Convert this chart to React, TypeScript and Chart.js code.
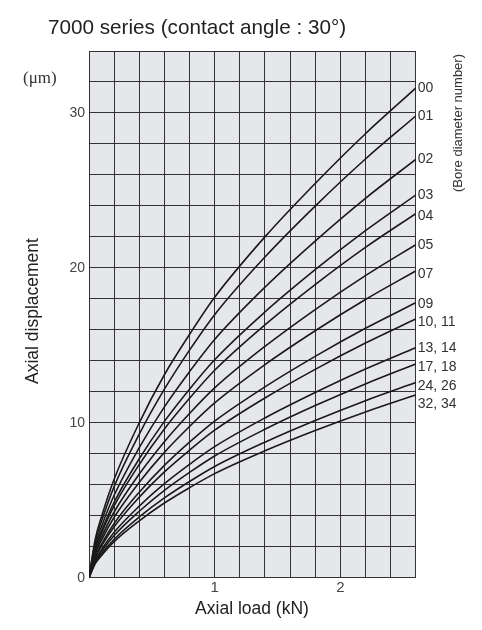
import React, { useEffect, useRef } from "react";
import { Chart, registerables } from "chart.js";

Chart.register(...registerables);

// Axial load (kN) sample points
const loads = [0, 0.05, 0.1, 0.2, 0.4, 0.6, 0.8, 1.0, 1.4, 1.8, 2.2, 2.6];

// Bore diameter numbers (curve labels)
const boreNumbers = ["00", "01", "02", "03", "04", "05", "07", "09", "10, 11", "13, 14", "17, 18", "24, 26", "32, 34"];

// Axial displacement (µm) for each bore number
const d00 = [0, 2.5, 3.95, 6.35, 10.0, 13.1, 15.7, 18.1, 22.0, 25.45, 28.66, 31.6];
const d01 = [0, 2.31, 3.65, 5.88, 9.27, 12.17, 14.69, 16.98, 20.7, 23.99, 27.03, 29.8];
const d02 = [0, 2.09, 3.31, 5.32, 8.4, 11.03, 13.3, 15.38, 18.75, 21.73, 24.49, 27.0];
const d03 = [0, 1.91, 3.03, 4.87, 7.68, 10.09, 12.17, 14.07, 17.15, 19.88, 22.4, 24.7];
const d04 = [0, 1.82, 2.88, 4.63, 7.31, 9.6, 11.58, 13.39, 16.32, 18.92, 21.32, 23.5];
const d05 = [0, 1.67, 2.63, 4.24, 6.69, 8.78, 10.6, 12.25, 14.93, 17.31, 19.5, 21.5];
const d07 = [0, 1.53, 2.43, 3.9, 6.16, 8.09, 9.76, 11.28, 13.75, 15.94, 17.96, 19.8];
const d09 = [0, 1.38, 2.17, 3.5, 5.52, 7.25, 8.75, 10.11, 12.32, 14.29, 16.1, 17.75];
const d10 = [0, 1.29, 2.05, 3.29, 5.2, 6.83, 8.23, 9.52, 11.6, 13.45, 15.15, 16.7];
const d13 = [0, 1.15, 1.82, 2.93, 4.62, 6.07, 7.32, 8.46, 10.31, 11.95, 13.47, 14.85];
const d17 = [0, 1.07, 1.69, 2.72, 4.29, 5.64, 6.8, 7.86, 9.58, 11.11, 12.51, 13.8];
const d24 = [0, 0.98, 1.54, 2.48, 3.92, 5.15, 6.21, 7.18, 8.75, 10.15, 11.43, 12.6];
const d32 = [0, 0.91, 1.44, 2.33, 3.67, 4.82, 5.81, 6.72, 8.19, 9.5, 10.7, 11.8];

const seriesValues = [d00, d01, d02, d03, d04, d05, d07, d09, d10, d13, d17, d24, d32];

// Axis tick labels
const yTickLabels = [0, 10, 20, 30];
const xTickLabels = [1, 2];

const title = "7000 series (contact angle : 30°)";
const yUnit = "(μm)";
const yTitle = "Axial displacement";
const xTitle = "Axial load (kN)";
const rightTitle = "(Bore diameter number)";

// small vertical nudges of the curve labels (px), layout only
const labelNudge = [0, 0, 0, 0, 2, 1, 3, 1, 3, 0, 3, 4, 9];

const W = 482;
const H = 630;
const PLOT_LEFT = 89;
const PLOT_RIGHT = 415.7;
const PLOT_TOP = 51;
const PLOT_BOTTOM = 577.7;

export default function App() {
  const ref = useRef<HTMLCanvasElement | null>(null);

  useEffect(() => {
    const canvas = ref.current;
    if (!canvas) return;

    const decor = {
      id: "decor",
      beforeDraw(chart: any) {
        const { ctx, chartArea } = chart;
        ctx.save();
        ctx.fillStyle = "#ffffff";
        ctx.fillRect(0, 0, W, H);
        ctx.fillStyle = "#e6e7eb";
        ctx.fillRect(chartArea.left, chartArea.top, chartArea.right - chartArea.left, chartArea.bottom - chartArea.top);
        ctx.restore();
      },
      afterDraw(chart: any) {
        const { ctx, chartArea } = chart;
        const ys = chart.scales.y;
        ctx.save();
        ctx.fillStyle = "#222";
        ctx.textBaseline = "alphabetic";
        ctx.textAlign = "left";
        ctx.font = '20.7px "Liberation Sans", Arial, sans-serif';
        ctx.fillText(title, 48, 34);

        ctx.font = '17px "Liberation Serif", "Times New Roman", serif';
        ctx.fillStyle = "#333";
        ctx.textBaseline = "middle";
        ctx.fillText(yUnit, 23, 79);

        // y title
        ctx.save();
        ctx.translate(33, 311);
        ctx.rotate(-Math.PI / 2);
        ctx.textAlign = "center";
        ctx.textBaseline = "middle";
        ctx.fillStyle = "#222";
        ctx.font = '17.5px "Liberation Sans", Arial, sans-serif';
        ctx.fillText(yTitle, 0, 0);
        ctx.restore();

        // x title
        ctx.textAlign = "center";
        ctx.textBaseline = "middle";
        ctx.fillStyle = "#222";
        ctx.font = '17.5px "Liberation Sans", Arial, sans-serif';
        ctx.fillText(xTitle, 252, 609);

        // right title
        ctx.save();
        ctx.translate(458, 123);
        ctx.rotate(-Math.PI / 2);
        ctx.textAlign = "center";
        ctx.textBaseline = "middle";
        ctx.fillStyle = "#333";
        ctx.font = '13px "Liberation Sans", Arial, sans-serif';
        ctx.fillText(rightTitle, 0, 0);
        ctx.restore();

        // curve labels
        ctx.textAlign = "left";
        ctx.textBaseline = "middle";
        ctx.fillStyle = "#333";
        ctx.font = '14px "Liberation Sans", Arial, sans-serif';
        seriesValues.forEach((vals, i) => {
          const yy = ys.getPixelForValue(vals[vals.length - 1]) + labelNudge[i];
          ctx.fillText(boreNumbers[i], chartArea.right + 2, yy);
        });
        ctx.restore();
      },
    };

    const chart = new Chart(canvas, {
      type: "line",
      data: {
        datasets: seriesValues.map((vals, i) => ({
          label: boreNumbers[i],
          data: vals.map((v, j) => ({ x: loads[j], y: v })),
          borderColor: "#1a1a1a",
          borderWidth: 1.6,
          pointRadius: 0,
          fill: false,
          cubicInterpolationMode: "monotone" as const,
        })),
      },
      options: {
        responsive: false,
        animation: false,
        devicePixelRatio: 1,
        layout: {
          padding: { left: 0, right: W - PLOT_RIGHT, top: PLOT_TOP, bottom: 0 },
        },
        plugins: {
          legend: { display: false },
          title: { display: false },
          tooltip: { enabled: false },
        },
        scales: {
          x: {
            type: "linear",
            min: 0,
            max: 2.6,
            afterFit(scale: any) {
              scale.height = H - PLOT_BOTTOM;
            },
            ticks: {
              stepSize: 0.2,
              autoSkip: false,
              maxRotation: 0,
              padding: 1,
              color: "#444",
              font: { family: '"Liberation Sans", Arial, sans-serif', size: 15 },
              callback: (v: any) => {
                const n = Number(v);
                const hit = xTickLabels.find((t) => Math.abs(t - n) < 1e-6);
                return hit !== undefined ? String(hit) : "";
              },
            },
            grid: { color: "#333", lineWidth: 1, drawTicks: false },
            border: { color: "#333", width: 1 },
          },
          y: {
            type: "linear",
            min: 0,
            max: 34,
            afterFit(scale: any) {
              scale.width = PLOT_LEFT;
            },
            ticks: {
              stepSize: 2,
              autoSkip: false,
              padding: 4,
              color: "#444",
              font: { family: '"Liberation Sans", Arial, sans-serif', size: 14 },
              callback: (v: any) => {
                const n = Number(v);
                const hit = yTickLabels.find((t) => Math.abs(t - n) < 1e-6);
                return hit !== undefined ? String(hit) : "";
              },
            },
            grid: { color: "#333", lineWidth: 1, drawTicks: false },
            border: { color: "#333", width: 1 },
          },
        },
      },
      plugins: [decor],
    });

    return () => chart.destroy();
  }, []);

  return (
    <div style={{ position: "absolute", left: 0, top: 0, width: W, height: H, background: "#fff" }}>
      <canvas ref={ref} width={W} height={H} style={{ width: W, height: H, display: "block" }} />
    </div>
  );
}
